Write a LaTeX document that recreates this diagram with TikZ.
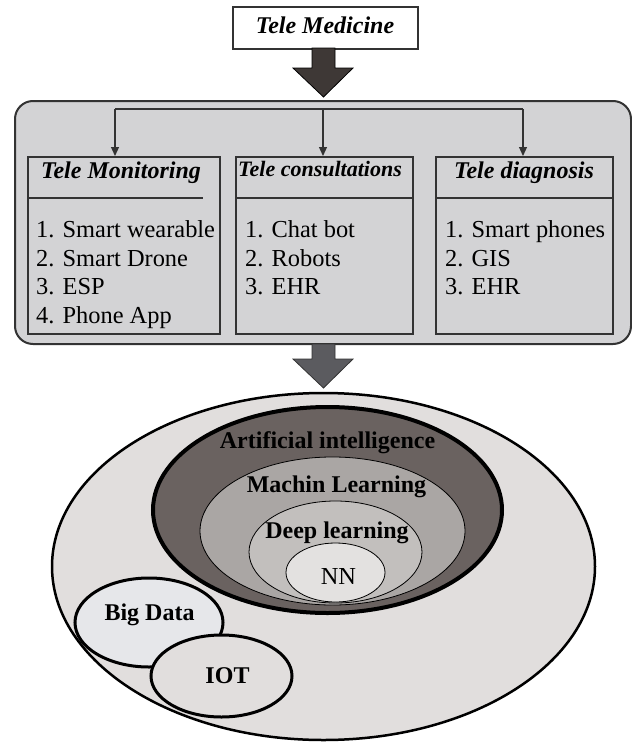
\documentclass[tikz,border=0pt]{standalone}
\usepackage{fontspec}
\setmainfont{Liberation Serif}
\usetikzlibrary{arrows.meta,shapes.geometric}
\definecolor{panelgray}{HTML}{D3D3D5}
\definecolor{linegray}{HTML}{333333}
\definecolor{arrowdark}{HTML}{3E3836}
\definecolor{arrowmid}{HTML}{5B5B5F}
\definecolor{outerfill}{HTML}{E1DEDD}
\definecolor{aifill}{HTML}{6A6260}
\definecolor{mlfill}{HTML}{AAA6A4}
\definecolor{dlfill}{HTML}{C2BFBD}
\definecolor{nnfill}{HTML}{E3E1E0}
\definecolor{bdfill}{HTML}{E6E7EA}
\tikzset{
  txt/.style={font=\fontsize{24.4}{29}\selectfont, inner sep=0pt, anchor=base},
  itemtxt/.style={font=\fontsize{24.4}{29}\selectfont, inner sep=0pt, anchor=base west},
  headtxt/.style={font=\fontsize{24}{29}\selectfont\bfseries\itshape, inner sep=0pt, anchor=base},
  boldtxt/.style={font=\fontsize{24}{29}\selectfont\bfseries, inner sep=0pt, anchor=base},
  catbox/.style={draw=linegray, line width=1.5pt, anchor=north west, inner sep=0pt},
  conn/.style={draw=linegray, line width=1.2pt},
  connarrow/.style={conn, -{Triangle[length=9pt,width=8pt]}},
  ell/.style={ellipse, inner sep=0pt},
}
\begin{document}
\begin{tikzpicture}[x=1pt,y=-1pt]
\useasboundingbox (0,0) rectangle (632,742);

% title
\node[draw=linegray, line width=1.5pt, fill=white, anchor=north west, minimum width=185pt, minimum height=42pt, inner sep=0pt] (title) at (232,6) {};
\node[headtxt] (titletxt) at (325,33) {Tele Medicine};

% panel
\node[draw=linegray, line width=2pt, fill=panelgray, rounded corners=18pt, anchor=north west, minimum width=616pt, minimum height=243pt, inner sep=0pt] (panel) at (14,100) {};

% arrow 1
\draw[fill=arrowdark, draw=black, line width=0.8pt] (312,48) -- (335,48) -- (335,68) -- (353,68) -- (323.5,97) -- (293,68) -- (312,68) -- cycle;

% category boxes
\node[catbox, minimum width=192pt, minimum height=177pt] (b1) at (27,156) {};
\node[catbox, minimum width=177pt, minimum height=177pt] (b2) at (235,156) {};
\node[catbox, minimum width=177pt, minimum height=177pt] (b3) at (435,156) {};
\draw[draw=linegray, line width=1.5pt] (b1.north west |- 0,198) -- (203,198);
\draw[draw=linegray, line width=1.5pt] (b2.north west |- 0,198) -- (b2.north east |- 0,198);
\draw[draw=linegray, line width=1.5pt] (b3.north west |- 0,198) -- (b3.north east |- 0,198);

% connectors
\coordinate (hl) at (115,109);
\coordinate (hm) at (323,109);
\coordinate (hr) at (523,109);
\draw[conn] (hl) -- (hr);
\draw[connarrow] (hl) -- (hl |- b1.north);
\draw[connarrow] (hm) -- (hm |- b2.north);
\draw[connarrow] (hr) -- (hr |- b3.north);

% headers
\node[headtxt] (h1) at (121,178) {Tele Monitoring};
\node[headtxt, font=\fontsize{22}{29}\selectfont\bfseries\itshape] (h2) at (320,176) {Tele consultations};
\node[headtxt] (h3) at (524,178) {Tele diagnosis};

% items
\node[itemtxt] (i11) at (36,237) {1. Smart wearable};
\node[itemtxt] (i12) at (36,266) {2. Smart Drone};
\node[itemtxt] (i13) at (36,294.5) {3. ESP};
\node[itemtxt] (i14) at (36,323) {4. Phone App};
\node[itemtxt] (i21) at (245,237) {1. Chat bot};
\node[itemtxt] (i22) at (245,266) {2. Robots};
\node[itemtxt] (i23) at (245,294.5) {3. EHR};
\node[itemtxt] (i31) at (445,237) {1. Smart phones};
\node[itemtxt] (i32) at (445,266) {2. GIS};
\node[itemtxt] (i33) at (445,294.5) {3. EHR};

% arrow 2
\draw[fill=arrowmid, draw=linegray, line width=0.8pt] (312,344) -- (335,344) -- (335,359) -- (353,359) -- (323.5,388) -- (293,359) -- (312,359) -- cycle;

% ellipses
\node[ell, draw=black, line width=2.5pt, fill=outerfill, minimum width=543pt, minimum height=347pt] (outer) at (323.5,566.5) {};
\node[ell, draw=black, line width=4pt, fill=aifill, minimum width=349pt, minimum height=206pt] (ai) at (327.5,510) {};
\node[ell, draw=black, line width=0.8pt, fill=mlfill, minimum width=265pt, minimum height=148pt] (ml) at (332.5,531) {};
\node[ell, draw=black, line width=0.8pt, fill=dlfill, minimum width=173pt, minimum height=102pt] (dl) at (335.5,552) {};
\node[ell, draw=black, line width=0.8pt, fill=nnfill, minimum width=99pt, minimum height=59pt] (nn) at (335.5,572.5) {};
\node[ell, draw=black, line width=3pt, fill=bdfill, minimum width=148pt, minimum height=89pt] (bd) at (149,622.5) {};
\node[ell, draw=black, line width=3pt, fill=outerfill, minimum width=141pt, minimum height=82pt] (iot) at (221.5,676) {};

% ellipse labels
\node[boldtxt] (aitxt) at (327.5,448) {Artificial intelligence};
\node[boldtxt] (mltxt) at (336.5,492) {Machin Learning};
\node[boldtxt] (dltxt) at (337,538) {Deep learning};
\node[txt] (nntxt) at (338.5,584) {NN};
\node[boldtxt] (bdtxt) at (149.5,620) {Big Data};
\node[boldtxt] (iottxt) at (227.5,683) {IOT};
\end{tikzpicture}
\end{document}
